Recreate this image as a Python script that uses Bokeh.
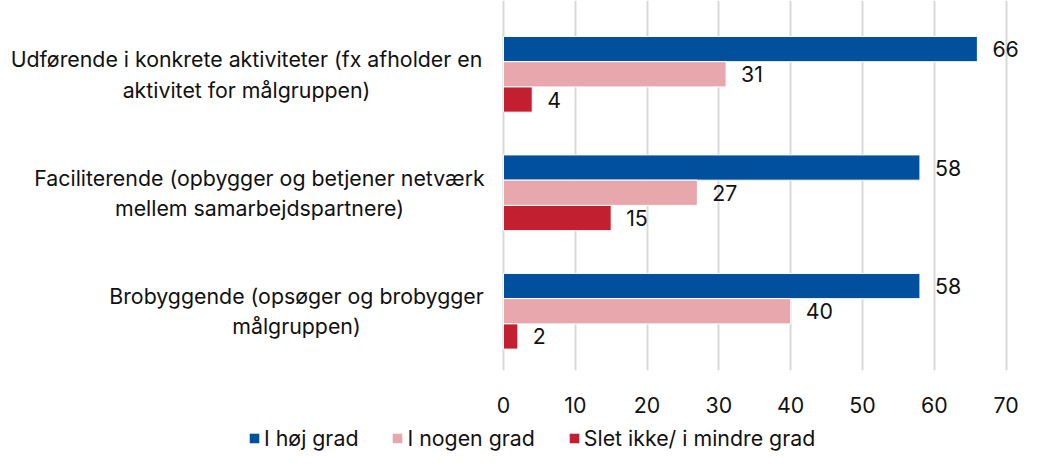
from bokeh.plotting import figure
from bokeh.layouts import column
from bokeh.models import (ColumnDataSource, LabelSet, Label, Legend, LegendItem,
                          FixedTicker, Range1d)
from bokeh.core.properties import value
from bokeh.embed import file_html
from bokeh.resources import INLINE

categories = [
    "Udførende i konkrete aktiviteter (fx afholder en\naktivitet for målgruppen)",
    "Faciliterende (opbygger og betjener netværk\nmellem samarbejdspartnere)",
    "Brobyggende (opsøger og brobygger\nmålgruppen)",
]
series_names = ["I høj grad", "I nogen grad", "Slet ikke/ i mindre grad"]
hoej_grad = [66, 58, 58]
nogen_grad = [31, 27, 40]
slet_ikke = [4, 15, 2]
x_ticks = [0, 10, 20, 30, 40, 50, 60, 70]

colors = ["#00509E", "#E8A7AD", "#C21F31"]
font = "Inter"
fsize = "16pt"
text_color = "#111111"

W = 1022
H_MAIN = 418
H_LEG = 34
x0_px = 503.0        # screen x of value 0
px_per_unit = 7.18
frame_h = 370
x_start = -x0_px / px_per_unit
x_end = (W - x0_px) / px_per_unit

p = figure(width=W, height=H_MAIN, output_backend="svg", toolbar_location=None,
           x_range=Range1d(x_start, x_end), y_range=Range1d(-0.5, 2.623),
           min_border_left=0, min_border_right=0, min_border_top=0,
           min_border_bottom=H_MAIN - frame_h)
p.outline_line_color = None
p.background_fill_color = "white"
p.border_fill_color = "white"

n = len(categories)
base = [n - 1 - i for i in range(n)]
bar_h = 0.213
offsets = [bar_h, 0.0, -bar_h]
all_vals = [hoej_grad, nogen_grad, slet_ikke]

sources = []
for vals, off, col in zip(all_vals, offsets, colors):
    src = ColumnDataSource(dict(y=[b + off for b in base], right=vals,
                                text=[str(v) for v in vals]))
    sources.append(src)
    p.hbar(y="y", left=0, right="right", height=bar_h, source=src,
           fill_color=col, line_color="white", line_width=1)
    p.add_layout(LabelSet(x="right", y="y", text="text", source=src,
                          x_offset=15, text_align="left", text_baseline="middle",
                          text_font=value(font), text_font_size=fsize,
                          text_color=text_color))

# category labels: lines centred on each other, block ending near the axis
label_center_px = [246, 259, 296]
for cat, b, cx in zip(categories, base, label_center_px):
    p.add_layout(Label(x=(cx - x0_px) / px_per_unit, y=b, text=cat,
                       text_align="center", text_baseline="middle",
                       text_font=font, text_font_size=fsize,
                       text_color=text_color, text_line_height=1.17))

p.xaxis.ticker = FixedTicker(ticks=x_ticks)
p.xaxis.axis_line_color = None
p.xaxis.major_tick_line_color = None
p.xaxis.minor_tick_line_color = None
p.xaxis.major_label_standoff = 20
p.xaxis.major_label_text_font = font
p.xaxis.major_label_text_font_size = fsize
p.xaxis.major_label_text_color = text_color
p.yaxis.visible = False

p.xgrid.ticker = FixedTicker(ticks=x_ticks)
p.xgrid.grid_line_color = "#D9D9D9"
p.xgrid.grid_line_width = 2
p.ygrid.visible = False

# legend strip below the chart (its bars lie outside its visible x range)
lf = figure(width=W, height=H_LEG, output_backend="svg", toolbar_location=None,
            x_range=Range1d(-2, -1), y_range=Range1d(-0.5, 2.5),
            x_axis_type=None, y_axis_type=None,
            min_border_left=0, min_border_right=0, min_border_top=0,
            min_border_bottom=0)
lf.outline_line_color = None
lf.grid.visible = False
lf.background_fill_color = "white"
lf.border_fill_color = "white"
leg_renderers = []
for src, col in zip(sources, colors):
    r = lf.hbar(y="y", left=0, right="right", height=bar_h, source=src,
                fill_color=col, line_color=None)
    leg_renderers.append(r)

legend = Legend(items=[LegendItem(label=nm, renderers=[r])
                       for nm, r in zip(series_names, leg_renderers)],
                orientation="horizontal", location=(248, 1),
                glyph_width=12, glyph_height=12, label_standoff=4, spacing=33,
                padding=0, margin=0, border_line_color=None,
                background_fill_alpha=0, label_text_font=font,
                label_text_font_size=fsize, label_text_color=text_color)
lf.add_layout(legend)

layout = column(p, lf, spacing=0)
open("out.html", "w").write(file_html(layout, INLINE))
